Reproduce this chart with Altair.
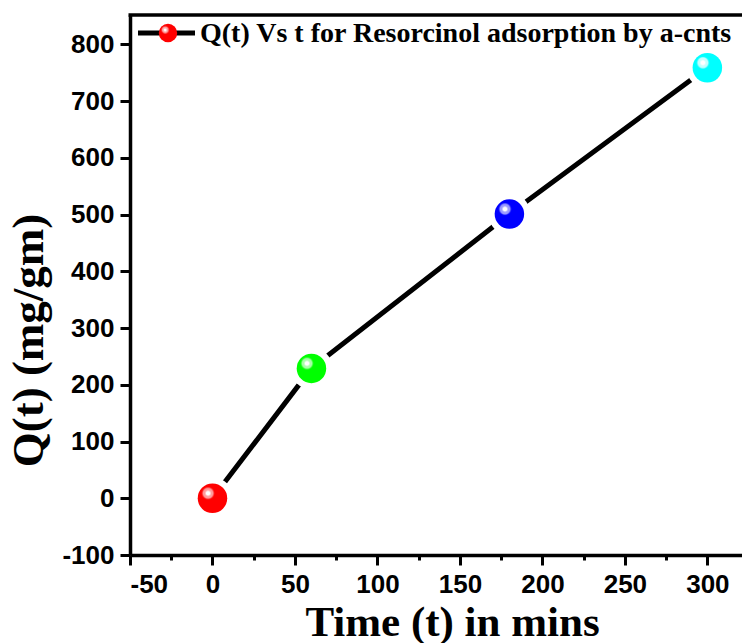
import altair as alt
import pandas as pd

# ---- data ----
time_min = [0, 60, 180, 300]
q_values = [0, 229, 501, 759]
point_colors = ["#ff0000", "#00ff00", "#0000ff", "#00ffff"]
point_tints = ["#ff9c9c", "#a8ffa8", "#9c9cff", "#c4ffff"]
series_label = "Q(t) Vs t for Resorcinol adsorption by a-cnts"
x_title = "Time (t) in mins"
y_title = "Q(t) (mg/gm)"
x_ticks = list(range(-50, 301, 25))
y_ticks = list(range(-100, 851, 50))

W, H = 612, 540
df = pd.DataFrame({"t": time_min, "Q": q_values})

x_enc = alt.X(
    "t:Q",
    scale=alt.Scale(domain=[-50, 321], nice=False, zero=False),
    axis=alt.Axis(
        values=x_ticks,
        labelExpr="datum.value % 50 == 0 ? '' + datum.value : ''",
        tickSize={"condition": {"test": "datum.value % 50 == 0", "value": 10}, "value": 5},
        tickWidth=3, tickColor="black", domainWidth=3.5, domainColor="black",
        labelFont="Liberation Sans", labelFontSize=26, labelFontWeight="bold",
        labelColor="black", labelPadding=6, grid=False,
        title=x_title, titleFont="Liberation Serif", titleFontSize=43,
        titleFontWeight="bold", titleColor="black",
        titleX=322, titleY=80, titleBaseline="alphabetic", titleAlign="center",
    ),
)
y_enc = alt.Y(
    "Q:Q",
    scale=alt.Scale(domain=[-100, 852], nice=False, zero=False),
    axis=alt.Axis(
        values=y_ticks,
        labelExpr="datum.value % 100 == 0 ? '' + datum.value : ''",
        tickSize={"condition": {"test": "datum.value % 100 == 0", "value": 10}, "value": 5},
        tickWidth=3, tickColor="black", domainWidth=3.5, domainColor="black",
        labelFont="Liberation Sans", labelFontSize=26, labelFontWeight="bold",
        labelColor="black", labelPadding=6, grid=False,
        title=y_title, titleFont="Liberation Serif", titleFontSize=45,
        titleFontWeight="bold", titleColor="black", titleAngle=-90,
        titleX=-88, titleY=325, titleBaseline="alphabetic", titleAlign="center",
    ),
)

base = alt.Chart(df)

line = base.mark_line(color="black", strokeWidth=5, strokeCap="round").encode(x=x_enc, y=y_enc)
halo = base.mark_point(filled=True, fill="white", size=1750, opacity=1, strokeWidth=0).encode(x="t:Q", y="Q:Q")


def sphere_fill(color, tint):
    return {
        "gradient": "radial",
        "x1": 0.35, "y1": 0.33, "r1": 0,
        "x2": 0.35, "y2": 0.33, "r2": 0.5,
        "stops": [
            {"offset": 0.0, "color": "#ffffff"},
            {"offset": 0.14, "color": "#ffffff"},
            {"offset": 0.2, "color": tint},
            {"offset": 0.34, "color": tint},
            {"offset": 0.42, "color": color},
            {"offset": 1.0, "color": color},
        ],
    }


spheres = []
for tv, col, tint in zip(time_min, point_colors, point_tints):
    spheres.append(
        base.transform_filter(alt.datum.t == tv)
        .mark_point(filled=True, fill=sphere_fill(col, tint), size=870, opacity=1, strokeWidth=0)
        .encode(x="t:Q", y="Q:Q")
    )

one = alt.Chart(pd.DataFrame({"label": [series_label]}))
border_top = one.mark_rule(color="black", strokeWidth=3.5).encode(
    x=alt.value(-1.5), x2=alt.value(W + 2), y=alt.value(0)
)
leg_line = one.mark_rule(color="black", strokeWidth=5).encode(
    x=alt.value(8), x2=alt.value(65), y=alt.value(18)
)
leg_dot = one.mark_point(
    filled=True, fill=sphere_fill(point_colors[0], point_tints[0]), size=340, opacity=1, strokeWidth=0
).encode(x=alt.value(38), y=alt.value(18))
leg_text = one.mark_text(
    font="Liberation Serif", fontSize=28, fontWeight="bold", color="black",
    align="left", baseline="middle",
).encode(x=alt.value(70), y=alt.value(19), text="label:N")

chart = alt.layer(
    line, halo, *spheres, leg_line, leg_dot, leg_text, border_top
).properties(
    width=W, height=H,
    autosize=alt.AutoSizeParams(type="none"),
    padding={"left": 130, "top": 15, "right": 0, "bottom": 88},
).configure_view(stroke=None).configure(background="white")

chart.save("out.html", embed_options={"renderer": "svg", "actions": False})
